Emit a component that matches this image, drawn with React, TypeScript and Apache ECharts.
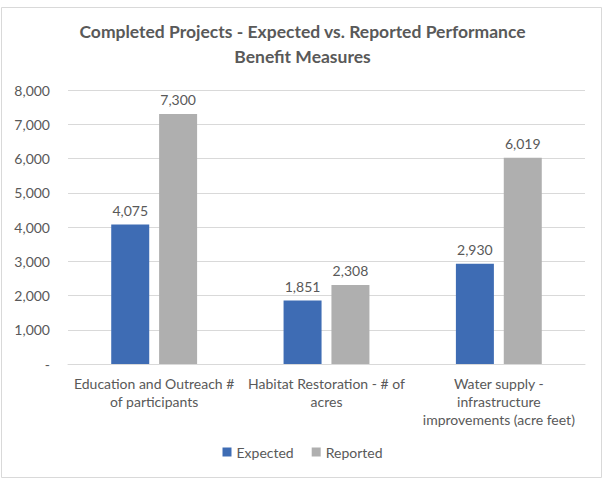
import React, { useEffect, useRef } from "react";
import * as echarts from "echarts";

const categories = [
  "Education and Outreach #\nof participants",
  "Habitat Restoration - # of\nacres",
  "Water supply -\ninfrastructure\nimprovements (acre feet)",
];
const expected = [4075, 1851, 2930];
const reported = [7300, 2308, 6019];
const seriesNames = ["Expected", "Reported"];
const titleText = "Completed Projects - Expected vs. Reported Performance\nBenefit Measures";

const FONT = "Lato, 'Open Sans', sans-serif";
const TXT = "#595959";

export default function App() {
  const ref = useRef<HTMLDivElement>(null);
  useEffect(() => {
    if (!ref.current) return;
    const chart = echarts.init(ref.current, null, { renderer: "svg" });
    const fmt = (v: number) => (v === 0 ? "-" : v.toLocaleString("en-US"));
    const labelStyle = {
      show: true,
      position: "top",
      distance: 7,
      formatter: (p: any) => fmt(p.value),
      fontFamily: FONT,
      fontSize: 14,
      color: TXT,
    };
    chart.setOption({
      animation: false,
      backgroundColor: "#ffffff",
      textStyle: { fontFamily: FONT },
      title: {
        text: titleText,
        left: "center",
        top: 14,
        textStyle: {
          fontFamily: FONT,
          fontSize: 17.5,
          fontWeight: "bold",
          color: TXT,
          lineHeight: 25,
        },
      },
      graphic: [
        {
          type: "rect",
          shape: { x: 1.5, y: 7.5, width: 600, height: 470 },
          style: { fill: "none", stroke: "#D9D9D9", lineWidth: 1 },
          silent: true,
        },
      ],
      legend: {
        data: seriesNames,
        bottom: 15,
        left: "center",
        itemWidth: 9,
        itemHeight: 9,
        itemGap: 18,
        icon: "rect",
        textStyle: { fontFamily: FONT, fontSize: 14, color: TXT },
      },
      grid: { left: 68, right: 20, top: 90, bottom: 115, containLabel: false },
      xAxis: {
        type: "category",
        data: categories,
        axisLine: { show: true, lineStyle: { color: "#D9D9D9" } },
        axisTick: { show: false },
        axisLabel: {
          interval: 0,
          margin: 10,
          fontFamily: FONT,
          fontSize: 14,
          lineHeight: 18,
          color: TXT,
        },
      },
      yAxis: {
        type: "value",
        min: 0,
        max: 8000,
        interval: 1000,
        axisLine: { show: false },
        axisTick: { show: false },
        splitLine: { lineStyle: { color: "#D9D9D9" } },
        axisLabel: {
          formatter: fmt,
          margin: 18,
          fontFamily: FONT,
          fontSize: 14,
          color: TXT,
        },
      },
      series: [
        {
          name: seriesNames[0],
          type: "bar",
          data: expected,
          barWidth: 38,
          barGap: "26%",
          itemStyle: { color: "#3E6CB4" },
          label: labelStyle,
        },
        {
          name: seriesNames[1],
          type: "bar",
          data: reported,
          barWidth: 38,
          barGap: "26%",
          itemStyle: { color: "#AFAFAF" },
          label: labelStyle,
        },
      ],
    });
    return () => chart.dispose();
  }, []);
  return (
    <div
      ref={ref}
      style={{ position: "fixed", left: 0, top: 0, width: 605, height: 479 }}
    />
  );
}
